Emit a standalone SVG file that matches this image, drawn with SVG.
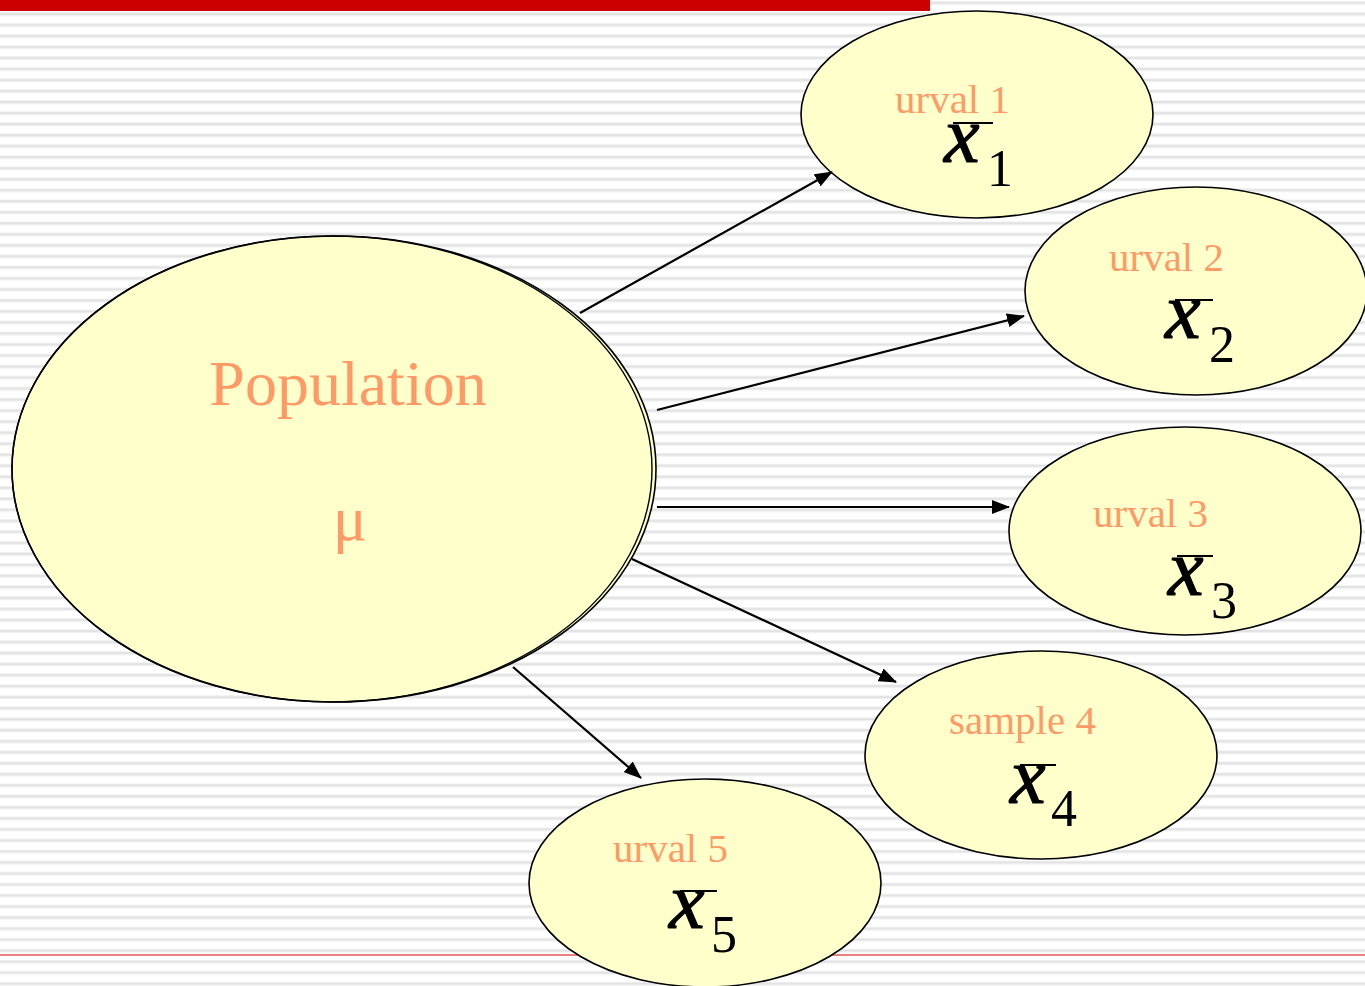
<svg xmlns="http://www.w3.org/2000/svg" width="1365" height="986" viewBox="0 0 1365 986">
  <style>
    .node { fill: #ffffcc; stroke: #000000; stroke-width: 1.6; }
    .lbl { font-size: 41px; fill: #ff9966; }
    .big { font-size: 64px; fill: #ff9966; text-anchor: middle; }
    .xvar { font-style: italic; font-size: 80px; fill: #000000; stroke: #000000; stroke-width: 1.2; }
    .idx { font-size: 52px; fill: #000000; }
    .bar { stroke: #000000; stroke-width: 2; }
    .conn { stroke: #000000; stroke-width: 2.2; fill: none; marker-end: url(#head); }
  </style>
  <defs>
    <pattern id="stripes" patternUnits="userSpaceOnUse" x="0" y="1" width="20" height="11.02">
      <rect x="0" y="0" width="20" height="1" fill="#f1f1f1"/>
      <rect x="0" y="1" width="20" height="2" fill="#e2e2e2"/>
      <rect x="0" y="3" width="20" height="1" fill="#eeeeee"/>
    </pattern>
    <marker id="head" markerUnits="userSpaceOnUse" markerWidth="18" markerHeight="14" refX="17" refY="7" orient="auto">
      <path d="M0,0 L18,7 L0,14 z" fill="#000000"/>
    </marker>
  </defs>

  <!-- slide background -->
  <rect x="0" y="0" width="1365" height="986" fill="#ffffff"/>
  <rect x="0" y="0" width="1365" height="986" fill="url(#stripes)"/>
  <rect x="0" y="0" width="930" height="11" fill="#cc0000"/>
  <rect x="0" y="954" width="1365" height="2" fill="#e88080"/>

  <g font-family="'Liberation Serif', 'Times New Roman', 'DejaVu Serif', serif">
    <!-- population -->
    <g id="population">
      <ellipse class="node" cx="334" cy="469" rx="322" ry="233"/>
      <ellipse cx="332" cy="469" rx="320" ry="233" fill="none" stroke="#000000" stroke-width="1.4"/>
      <text class="big" x="348" y="405">Population</text>
      <text class="big" x="350" y="540">μ</text>
    </g>

    <!-- samples -->
    <g id="sample1">
      <ellipse class="node" cx="977" cy="114.5" rx="176" ry="103.5"/>
      <text class="lbl" x="895" y="113">urval 1</text>
      <line class="bar" x1="953" y1="123" x2="993" y2="123"/>
      <text class="xvar" x="944" y="162">x</text>
      <text class="idx" x="987" y="186">1</text>
    </g>

    <g id="sample2">
      <ellipse class="node" cx="1196" cy="291" rx="171" ry="104"/>
      <text class="lbl" x="1109" y="271">urval 2</text>
      <line class="bar" x1="1175" y1="300" x2="1213" y2="300"/>
      <text class="xvar" x="1165" y="338">x</text>
      <text class="idx" x="1209" y="362">2</text>
    </g>

    <g id="sample3">
      <ellipse class="node" cx="1185" cy="531" rx="176" ry="104"/>
      <text class="lbl" x="1093" y="527">urval 3</text>
      <line class="bar" x1="1177" y1="556" x2="1213" y2="556"/>
      <text class="xvar" x="1168" y="595">x</text>
      <text class="idx" x="1211" y="618">3</text>
    </g>

    <g id="sample4">
      <ellipse class="node" cx="1041" cy="755" rx="176" ry="104"/>
      <text class="lbl" x="949" y="734">sample 4</text>
      <line class="bar" x1="1020" y1="765" x2="1056" y2="765"/>
      <text class="xvar" x="1010" y="803">x</text>
      <text class="idx" x="1051" y="826">4</text>
    </g>

    <g id="sample5">
      <ellipse class="node" cx="705" cy="883" rx="176" ry="104"/>
      <text class="lbl" x="613" y="862">urval 5</text>
      <line class="bar" x1="680" y1="891" x2="717" y2="891"/>
      <text class="xvar" x="669" y="928">x</text>
      <text class="idx" x="711" y="952">5</text>
    </g>
  </g>

  <!-- connectors -->
  <g id="connectors">
    <line class="conn" x1="580" y1="313" x2="832" y2="172"/>
    <line class="conn" x1="657" y1="410" x2="1024" y2="316"/>
    <line class="conn" x1="657" y1="507" x2="1009" y2="507"/>
    <line class="conn" x1="632" y1="559" x2="896" y2="682"/>
    <line class="conn" x1="513" y1="667" x2="641" y2="778"/>
  </g>
</svg>
